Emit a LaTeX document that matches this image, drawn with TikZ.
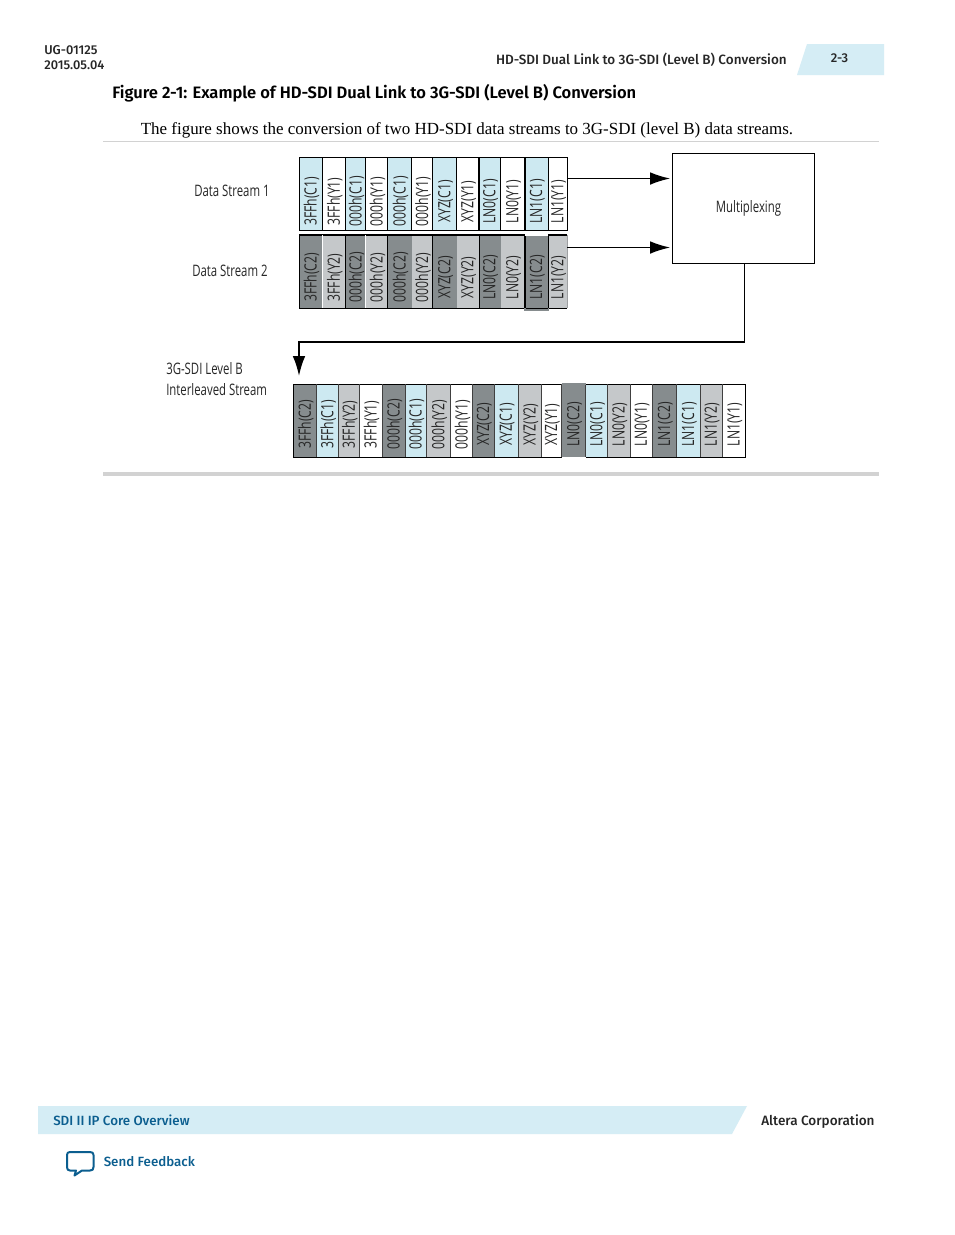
\documentclass[tikz,border=0pt]{standalone}
\usepackage{fontspec}
\setmainfont[BoldFont={Fira Sans Medium}]{Fira Sans}
\newfontfamily\titlefont{Fira Sans SemiBold}
\newfontfamily\serifbody{Liberation Serif}
\newfontfamily\condfont[FakeStretch=0.72]{Open Sans}
\usetikzlibrary{arrows.meta}
\definecolor{lb}{HTML}{CDE9F1}
\definecolor{dg}{HTML}{868C8E}
\definecolor{lg}{HTML}{C5C8CA}
\definecolor{hdr}{HTML}{D5EDF5}
\definecolor{bluetxt}{HTML}{0B5E8F}
\definecolor{rule1}{HTML}{D2D2D2}
\tikzset{
  cellbox/.style={inner sep=0pt,outer sep=0pt,anchor=north west},
  celltxt/.style={rotate=90,inner sep=0pt,font=\condfont\fontsize{12.7}{12}\selectfont,text=black!85},
  difflabel/.style={inner sep=0pt,anchor=west,font=\condfont\fontsize{11.85}{14}\selectfont,text=black!85,align=left},
  hd/.style={inner sep=0pt,font=\bfseries\fontsize{9.6}{11}\selectfont,text=black!85},
  conn/.style={draw=black,line width=1pt},
  arr/.style={conn,-{Latex[length=15pt,width=9.5pt,sharp]}},
}
\newcommand{\cellrow}[6]{%
  \foreach \xa/\xb/\cc/\tt [count=\n] in {#6}{%
    \node[cellbox,fill=\cc,#5,minimum width=(\xb-\xa)*0.75pt,minimum height=(#3-#2)*0.75pt] (#1c\n) at (\xa,#2) {};
    \node[celltxt] (#1t\n) at ({(\xa+\xb)/2+0.8},#4) {\tt};
  }}
\begin{document}
\begin{tikzpicture}[x=0.75pt,y=-0.75pt]
\useasboundingbox (0,0) rectangle (954,1235);
\fill[white] (0,0) rectangle (954,1235);
% header
\fill[hdr] (797,75) -- (807,44) -- (884,44) -- (884,75) -- cycle;
\node[hd,anchor=west] (ug) at (44,50) {UG-01125};
\node[hd,anchor=west] (dt) at (44,65) {2015.05.04};
\node[hd,anchor=east,font=\bfseries\fontsize{10.12}{11}\selectfont] (ht) at (787,59.5) {HD-SDI Dual Link to 3G-SDI (Level B) Conversion};
\node[hd] (pg) at (839.5,58.5) {2-3};
\node[inner sep=0pt,anchor=west,font=\titlefont\fontsize{12.4}{14}\selectfont,text=black] (fig) at (112,93) {Figure 2-1: Example of HD-SDI Dual Link to 3G-SDI (Level B) Conversion};
\node[inner sep=0pt,anchor=west,font=\serifbody\fontsize{12.73}{14}\selectfont,text=black] (para) at (140.5,130) {The figure shows the conversion of two HD-SDI data streams to 3G-SDI (level B) data streams.};
\draw[rule1,line width=0.6pt] (103,141.5) -- (879,141.5);
\draw[rule1,line width=2.6pt] (103,474) -- (879,474);
% stream 1
\cellrow{a}{157.7}{230.3}{201.5}{draw=black,line width=1pt}{
299.3/322.3/lb/3FFh(C1),322.3/345.7/white/3FFh(Y1),345.7/365.7/lb/000h(C1),365.7/387.7/white/000h(Y1),387.7/411.7/lb/000h(C1),411.7/432.7/white/000h(Y1),432.7/456.7/lb/XYZ(C1),456.7/479/white/XYZ(Y1),479/500.7/lb/LN0(C1),500.7/525/white/LN0(Y1),525/548.3/lb/LN1(C1),548.3/567.3/white/LN1(Y1)}
% stream 2
\cellrow{b}{235}{308.3}{277.5}{draw=none}{
299.3/322.3/dg/3FFh(C2),322.3/345.7/lg/3FFh(Y2),345.7/365.7/dg/000h(C2),365.7/387.7/lg/000h(Y2),387.7/411.7/dg/000h(C2),411.7/432.7/lg/000h(Y2),432.7/456.7/dg/XYZ(C2),456.7/479/lg/XYZ(Y2),479/500.7/dg/LN0(C2),500.7/525/lg/LN0(Y2),525/548.3/dg/LN1(C2),548.3/567.3/lg/LN1(Y2)}
\draw[black,line width=1pt] (bc1.south east) -- (bc1.south west) -- (bc1.north west) -- (bc12.north east);
\draw[black,line width=1pt] (bc1.south east) -- (bc12.south east);
\draw[lg!80!black,line width=1pt] (bc12.north east) -- (bc12.south east);
\draw[black,line width=1pt] (bc11.north west) -- (bc11.south west) (bc11.north east) -- (bc11.south east);
\draw[white,line width=0.8pt] (bc2.north west) -- (bc2.south west) (bc4.north west) -- (bc4.south west) (bc11.north west) -- (bc11.north east);
\draw[dg,line width=1pt] (bc11.south west) -- ++(0,1.6) -| (bc11.south east);
\draw[black,line width=0.6pt] (bc3.north west) -- (bc3.south west) (bc5.north west) -- (bc5.south west) (bc7.north west) -- (bc7.south west) (bc9.north west) -- (bc9.south west);
% stream 3
\cellrow{c}{384.3}{457.3}{424.5}{draw=none}{
293.3/316.7/dg/3FFh(C2),316.7/338.3/lb/3FFh(C1),338.3/359.7/lg/3FFh(Y2),359.7/382/white/3FFh(Y1),382/405.3/dg/000h(C2),405.3/426.3/lb/000h(C1),426.3/450.7/lg/000h(Y2),450.7/472.7/white/000h(Y1),472.7/494.3/dg/XYZ(C2),494.3/518.3/lb/XYZ(C1),518.3/541.7/lg/XYZ(Y2),541.7/561.7/white/XYZ(Y1),561.7/585.7/dg/LN0(C2),585.7/607.7/lb/LN0(C1),607.7/630.3/lg/LN0(Y2),630.3/652.3/white/LN0(Y1),652.3/676.7/dg/LN1(C2),676.7/700.3/lb/LN1(C1),700.3/722.3/lg/LN1(Y2),722.3/745.7/white/LN1(Y1)}
\draw[black,line width=1pt] (cc1.north west) rectangle (cc20.south east);
\foreach \k in {2,...,20}{\draw[black!75,line width=0.45pt] (cc\k.north west) -- (cc\k.south west);}
\draw[dg,line width=1.2pt] ([yshift=0.4pt]cc13.north west) -- ([yshift=0.4pt]cc13.north east);
\draw[white,line width=1pt] (cc13.south west) -- (cc13.south east);
% labels
\node[difflabel] (l1) at (194,190.5) {Data Stream 1};
\node[difflabel] (l2) at (192,270.5) {Data Stream 2};
\node[difflabel,anchor=north west] (l3) at (166,362) {3G-SDI Level B\\[2pt]Interleaved Stream};
% multiplexer
\node[draw=black,line width=0.7pt,inner sep=0pt,minimum width=142*0.75pt,minimum height=110.5*0.75pt,anchor=north west] (mux) at (672.2,152.5) {};
\node[difflabel,anchor=center] (muxt) at (748.5,208.5) {Multiplexing};
\coordinate (ao) at (567.3,178.5); \coordinate (ai) at (670,178.5);
\coordinate (bo) at (567.3,247.5); \coordinate (bi) at (670,247.5);
\coordinate (mo) at (744.5,263); \coordinate (c1) at (744.5,342); \coordinate (c2) at (299,342); \coordinate (ce) at (299,376);
\draw[arr] (ao) -- (ai);
\draw[arr] (bo) -- (bi);
\draw[arr,line width=1.3pt] (mo) -- (c1) -- (c2) -- (ce);
% footer
\fill[hdr] (38,1106) -- (747,1106) -- (732,1134) -- (38,1134) -- cycle;
\node[hd,anchor=west,text=bluetxt,font=\bfseries\fontsize{10}{11}\selectfont] (sec) at (53,1120.5) {SDI II IP Core Overview};
\node[hd,anchor=west,font=\bfseries\fontsize{10.15}{11}\selectfont] (corp) at (761,1121.5) {Altera Corporation};
\node[hd,anchor=west,text=bluetxt,font=\bfseries\fontsize{10}{11}\selectfont] (fb) at (103.5,1161.5) {Send Feedback};
\draw[bluetxt,line width=1.5pt,line join=round,fill=white] (70,1152) -- (90,1152) .. controls (92.5,1152) and (93.5,1153) .. (93.5,1155) -- (93.5,1167) .. controls (93.5,1169.5) and (92.5,1170.5) .. (90,1170.5) -- (82,1170.5) -- (74.5,1175.5) -- (76,1170.5) -- (70,1170.5) .. controls (68,1170.5) and (67,1169.5) .. (67,1167) -- (67,1155) .. controls (67,1153) and (68,1152) .. (70,1152) -- cycle;
\end{tikzpicture}
\end{document}
